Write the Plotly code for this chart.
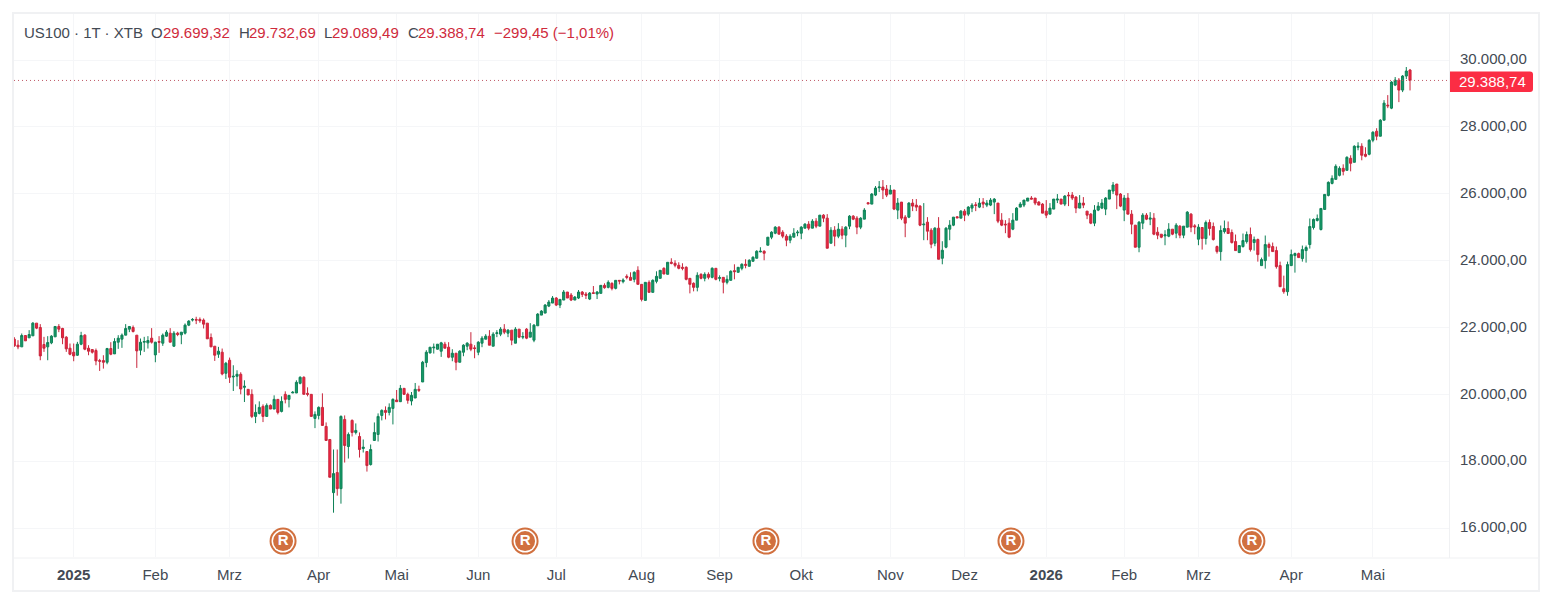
import plotly.graph_objects as go

# Daily OHLC of the US100 CFD, oldest bar first
opens = [
21650,21470,21420,21760,21690,21750,22130,22000,21490,21420,21540,21720,22030,21970,21710,21380,21260,21170,21500,21770,
21380,21340,21310,21010,21010,20960,21370,21210,21560,21650,21770,21950,22000,21770,21320,21560,21540,21680,21180,21580,
21530,21740,21830,21440,21830,21780,21830,22070,22220,22240,22240,22220,22130,
21700,21440,21200,21260,20630,21020,20520,20540,20600,20210,20150,20000,19340,19430,19640,19340,19670,19560,19850,19490,
20000,19850,20040,20040,20330,20510,20030,20000,19280,19370,19610,19040,18650,17060,17660,17180,19250,18440,19220,18860,
18740,18380,18290,17900,18620,18800,19370,19520,19460,19580,19830,19780,
20180,20000,19800,19890,20150,20370,20950,21240,
21390,21350,21290,21500,21410,21110,21230,20960,21260,21440,21500,21390,21260,21530,21650,21740,21440,21820,21800,21950,
21830,21920,21530,21950,21710,21950,21710,21620,22050,22370,22430,22640,22730,22880,22670,22820,23060,22970,22820,22880,
23060,23000,22850,23040,23000,
23020,23260,23200,23320,23170,23410,23370,23530,23500,23440,23710,23290,22810,23350,23050,23380,23470,23770,23590,23950,
23920,23860,23800,23800,23470,23320,23200,23590,23470,23590,23500,23770,23470,23500,23350,23410,23700,23650,23770,23890,
23830,23980,24070,24260,24280,24460,24700,24820,25000,24850,24730,24610,24700,24830,
24820,24970,25090,24970,25180,25030,25360,25270,24520,24910,24730,24940,24760,25030,25330,25270,25000,25240,25730,25690,
25960,26180,26200,26140,25990,26110,25510,25750,25300,25300,25720,25660,25630,25070,25150,24910,24520,24970,24070,24400,
24940,25060,25310,25270,25480,25390,25570,25670,25600,25750,25660,25660,25750,25720,
25210,25090,25120,24940,25210,25600,25660,25780,25870,25870,25750,25690,25480,25390,25540,25810,25840,25690,25960,25960,
25900,25570,25720,25480,25390,25120,25510,25570,25540,25840,26080,26290,25990,25510,25870,25390,25060,24400,25120,25360,
25240,25270,24850,24790,24740,24730,24940,24820,25030,24760,25000,25390,25040,24640,
24990,24660,25140,25020,24420,24270,24870,24960,24840,24570,24240,24420,24570,24780,24540,24630,23850,24000,24480,24420,
24300,23850,23160,23070,23850,24150,24210,24060,24300,24480,24990,25200,24930,25530,25950,26310,26430,26550,26760,26700,
27060,26940,27390,27420,27180,27180,27600,27870,27720,28200,28650,28560,29250,29400,29100,29520,29699.32,
]
highs = [
21710,21620,21820,21770,21920,22160,22130,22100,21720,21740,21770,22040,22100,21990,21740,21520,21520,21570,21870,21800,
21470,21340,21370,21060,21170,21390,21560,21680,21770,21820,22100,22030,22060,21770,21670,21720,21740,21980,21570,21740,
21820,21920,21980,21890,21870,21860,22120,22220,22280,22320,22300,22270,22130,
21820,21440,21420,21370,20970,21100,20870,20720,20660,20420,20150,20150,19700,19790,19700,19730,19700,19970,19850,19940,
20090,19970,20100,20420,20540,20540,20210,20000,19490,19640,20030,19160,18650,18350,18350,19370,19370,18860,19250,19130,
18860,18650,18290,18500,19160,19430,19550,19640,19730,19880,20130,20280,
20180,20050,20070,20340,20260,21000,21320,21410,
21520,21500,21570,21570,21560,21350,21230,21320,21500,21560,21860,21470,21590,21740,21800,21920,21860,21920,22010,22100,
21950,21920,22010,21950,21860,21980,22130,22100,22430,22520,22700,22820,22940,22910,22840,23120,23060,23030,22940,23120,
23090,23060,23060,23240,23090,
23260,23320,23410,23350,23410,23410,23470,23590,23650,23680,23830,23290,23350,23410,23440,23680,23710,23800,23950,24070,
24010,23950,23920,23830,23470,23350,23650,23620,23650,23650,23800,23770,23560,23500,23560,23710,23890,23800,23920,24040,
24040,24130,24310,24400,24310,24700,24880,25030,25030,24910,24790,24790,24970,24910,
25030,25120,25180,25240,25270,25360,25390,25390,25000,25030,25120,25030,25030,25360,25360,25330,25300,25570,25750,26020,
26230,26380,26410,26260,26260,26110,25870,25750,25360,25750,25840,25840,25660,25720,25300,24970,25000,25300,24580,25000,
25210,25300,25330,25510,25540,25630,25720,25750,25870,25870,25810,25870,25870,25720,
25420,25210,25270,25420,25600,25750,25810,25870,25930,25870,25780,25720,25810,25720,25840,25990,25840,25960,26050,26050,
25930,25960,25900,25480,25420,25660,25750,25840,25900,26110,26350,26290,26020,25960,26020,25510,25060,25180,25420,25420,
25450,25420,25000,24790,24910,25120,24940,25120,25060,25030,25480,25420,25090,25090,
24990,25200,25230,25140,24450,25050,25200,25170,24930,24780,24450,24810,24870,24990,24720,24660,24090,24750,24540,24540,
24420,23970,23550,23970,24330,24240,24240,24450,24450,25260,25260,25380,25560,25980,26370,26550,26880,26820,26880,27120,
27150,27450,27540,27510,27390,27630,27870,27960,28230,28800,28950,29370,29490,29460,29550,29790,29732.69,
]
lows = [
21420,21350,21420,21600,21690,21750,21950,21020,21270,21020,21500,21720,21860,21500,21270,21170,20990,21150,21470,21320,
21170,21220,20870,20700,20770,20900,21170,21210,21360,21390,21770,21860,21850,20790,21170,21270,21370,21520,20960,21240,
21450,21720,21560,21420,21740,21500,21790,22040,22180,22100,22140,21970,21660,
21420,21000,21090,20570,20460,20340,20100,20240,20000,19770,19980,19290,19140,19400,19170,19340,19560,19560,19400,19460,
19730,19610,20040,20040,20300,20000,19940,19340,18990,19250,19070,18620,17520,16460,16970,16730,17960,18080,18740,18800,
18110,18260,17690,17870,18620,18590,19220,19250,19370,19100,19780,19770,
19980,19720,19670,19890,20070,20370,20810,21220,
21220,21340,21120,21380,21080,20990,20720,20960,21140,21320,21290,21080,21170,21410,21650,21470,21440,21710,21740,21800,
21710,21470,21530,21680,21650,21650,21710,21560,22050,22370,22430,22610,22730,22640,22580,22820,22880,22790,22820,22850,
22910,22850,22820,23000,22850,
23020,23160,23170,23110,23140,23290,23320,23440,23410,23350,23290,22780,22810,23050,23050,23320,23470,23590,23590,23890,
23800,23740,23710,23410,23020,23080,23080,23440,23380,23440,23470,23410,23380,23020,23290,23410,23440,23650,23710,23770,
23830,23980,24070,24250,24010,24460,24640,24790,24790,24670,24430,24520,24700,24730,
24640,24970,24910,24970,24970,25030,25150,24370,24520,24430,24670,24640,24400,24940,25210,24790,24940,25240,25690,25690,
25930,26050,25840,25900,25990,25510,25240,25210,24700,25270,25480,25480,25030,24610,24610,24370,24430,24040,23890,24370,
24610,25030,25270,25270,25180,25330,25450,25480,25570,25570,25600,25630,25390,25120,
25030,24820,24670,24910,25210,25600,25600,25780,25840,25660,25660,25420,25270,25390,25540,25720,25690,25630,25630,25810,
25420,25570,25570,25240,25090,25030,25480,25540,25360,25840,25990,25540,25600,25180,25390,24790,24400,24250,24940,25210,
25060,24760,24640,24670,24460,24700,24760,24670,24670,24670,25000,24850,24790,24460,
24330,24480,24750,24600,24210,24000,24810,24810,24510,24300,24240,24390,24510,24270,24300,23970,23850,23760,24120,24270,
23760,23220,23010,22950,23850,23640,24090,23970,23940,24360,24930,25170,24900,25530,25920,26280,26430,26520,26550,26700,
26670,26940,27300,27000,27090,27150,27540,27600,27720,28200,28560,28530,29220,28740,29040,29430,29089.49,
]
closes = [
21450,21420,21760,21600,21790,22130,21980,21150,21380,21550,21740,22030,21950,21690,21360,21200,21150,21500,21760,21350,
21290,21260,21000,20990,20960,21370,21200,21580,21680,21770,21970,22030,21880,21300,21560,21580,21610,21560,21560,21560,
21770,21860,21560,21830,21790,21860,22070,22190,22240,22220,22200,22100,21660,
21420,21170,21290,20610,20930,20510,20540,20600,20160,20240,19980,19340,19460,19610,19340,19670,19560,19850,19460,19790,
19850,19970,20060,20360,20510,20000,20000,19340,19400,19610,19070,18620,17520,17630,17180,19340,18470,18800,18860,18920,
18350,18420,17870,18350,18860,19340,19520,19460,19610,19850,19780,20180,
20000,19820,19970,20150,20120,20960,21260,21410,
21410,21500,21540,21380,21110,21230,20960,21290,21470,21530,21350,21370,21560,21680,21740,21470,21800,21840,21950,21860,
21920,21620,21950,21710,21730,21680,21860,22070,22400,22490,22670,22760,22880,22670,22840,23060,22880,22820,22910,23060,
22990,22960,23030,23020,23060,
23260,23190,23350,23170,23410,23390,23420,23500,23410,23650,23290,22840,23350,23050,23410,23530,23710,23600,23950,23920,
23860,23770,23770,23440,23290,23200,23560,23470,23590,23500,23770,23440,23490,23350,23440,23680,23670,23800,23890,23860,
24010,24100,24280,24280,24220,24700,24850,25000,24790,24730,24610,24730,24820,24850,
25000,25090,24970,25180,25030,25360,25270,24370,24910,24730,24940,24760,25000,25330,25240,25000,25270,25510,25700,25990,
26170,26200,26110,25960,26110,25540,25720,25270,25120,25720,25630,25600,25060,25090,24880,24490,24970,24040,24310,24970,
25060,25300,25280,25480,25360,25600,25660,25650,25720,25690,25720,25810,25840,25180,
25060,25070,24700,25210,25570,25690,25810,25870,25840,25720,25660,25420,25360,25570,25840,25840,25690,25930,25940,25870,
25570,25720,25660,25360,25120,25510,25630,25720,25870,26110,26260,25960,25630,25870,25390,25090,24400,25150,25360,25240,
25270,24790,24760,24700,24770,24940,24790,25060,24760,25030,25450,25000,25010,25000,
24660,25140,24960,24630,24270,24900,24960,24810,24540,24300,24450,24600,24780,24330,24630,24180,24030,24480,24390,24270,
23820,23220,23070,23880,24180,24210,24090,24330,24390,25020,25230,25260,25560,25980,26340,26460,26820,26760,26670,27090,
26910,27420,27420,27150,27120,27600,27840,27720,28200,28710,28630,29340,29400,29100,29520,29670,29388.74,
]

# Bar numbers where each month begins, with the label shown there
month_bars = [16, 38, 58, 82, 103, 125, 146, 169, 190, 212, 236, 256, 278, 299, 319, 344, 366]
month_labels = ["<b>2025</b>", "Feb", "Mrz", "Apr", "Mai", "Jun", "Jul", "Aug", "Sep", "Okt", "Nov",
                "Dez", "<b>2026</b>", "Feb", "Mrz", "Apr", "Mai"]
price_ticks = [16000, 18000, 20000, 22000, 24000, 26000, 28000, 30000]

# Dividend-style event badges along the bottom of the pane
event_bars = [72.4, 137.6, 202.5, 268.5, 333.4]
event_level = 15610

# Header strip: text, left edge in pixels, and whether it is drawn in the quote colour
header_items = [
    ("US100 · 1T · XTB", 23, False), ("O", 150, False), ("29.699,32", 162, True),
    ("H", 238, False), ("29.732,69", 248, True), ("L", 323, False), ("29.089,49", 331, True),
    ("C", 407, False), ("29.388,74", 417, True), ("−299,45 (−1,01%)", 493, True),
]

last_close = closes[-1]

GREEN_FILL, GREEN_EDGE = "#169c68", "#0e8057"
RED_FILL, RED_EDGE = "#f0243f", "#c8263c"
TAG_RED = "#fb2d44"
GRID = "#f5f6f8"
FRAME = "#f0f1f3"
INK = "#434a54"
RED_TEXT = "#cf2a3c"
FONT = "'Liberation Sans', Arial, sans-serif"

W, H = 1552, 605
L, R, T, B = 14, 103, 14, 48


def page_x(px):
    return (px - L) / (W - L - R)


def page_y(py):
    return 1 - (py - T) / (H - T - B)


def tag_path(x0, x1, y0, y1, r):
    """Rectangle with rounded right-hand corners, in paper coordinates."""
    ax, bx, cx = page_x(x0), page_x(x1 - r), page_x(x1)
    t0, t1, b1, b0 = page_y(y0), page_y(y0 + r), page_y(y1 - r), page_y(y1)
    return (f"M{ax},{t0} L{bx},{t0} Q{cx},{t0} {cx},{t1} L{cx},{b1} "
            f"Q{cx},{b0} {bx},{b0} L{ax},{b0} Z")


fig = go.Figure()
fig.add_trace(go.Candlestick(
    x=list(range(len(opens))), open=opens, high=highs, low=lows, close=closes,
    increasing=dict(fillcolor=GREEN_FILL, line=dict(color=GREEN_EDGE, width=1)),
    decreasing=dict(fillcolor=RED_FILL, line=dict(color=RED_EDGE, width=1)),
    whiskerwidth=0, hoverinfo="skip", showlegend=False,
))

# Badge: an orange disc, a white ring and an inner disc carrying the letter
badge_y = [event_level] * len(event_bars)
for size, colour in ((27, "#d1703f"), (23, "#ffffff")):
    fig.add_trace(go.Scatter(x=event_bars, y=badge_y, mode="markers", hoverinfo="skip", showlegend=False,
                             marker=dict(size=size, color=colour, line=dict(width=0))))
fig.add_trace(go.Scatter(x=event_bars, y=badge_y, mode="markers+text", hoverinfo="skip", showlegend=False,
                         marker=dict(size=20, color="#d1703f", line=dict(width=0)),
                         text=["<b>R</b>"] * len(event_bars), textposition="middle center",
                         textfont=dict(family=FONT, size=15, color="#ffffff")))

header_notes = [
    dict(xref="paper", yref="paper", x=page_x(px), y=page_y(32), xanchor="left", yanchor="middle",
         showarrow=False, text=label, xshift=-1,
         font=dict(family=FONT, size=15, color=RED_TEXT if quoted else INK))
    for label, px, quoted in header_items
]

fig.update_layout(
    width=W, height=H, margin=dict(l=L, r=R, t=T, b=B),
    paper_bgcolor="#ffffff", plot_bgcolor="#ffffff", boxgap=0.2,
    separators=",.", font=dict(family=FONT, size=15, color=INK),
    xaxis=dict(range=[-0.08, 386.5], rangeslider=dict(visible=False), tickmode="array",
               tickvals=month_bars, ticktext=month_labels, ticks="outside", ticklen=4, tickcolor="rgba(0,0,0,0)",
               showgrid=True, gridcolor=GRID, gridwidth=1, zeroline=False, showline=False,
               tickfont=dict(family=FONT, size=15, color=INK), tickangle=0),
    yaxis=dict(side="right", range=[15135, 31376], tickmode="array", tickvals=price_ticks, tickformat=",.2f",
               ticks="outside", ticklen=7, tickcolor="rgba(0,0,0,0)", ticklabelshift=-1,
               showgrid=True, gridcolor=GRID, gridwidth=1, zeroline=False, showline=False,
               tickfont=dict(family=FONT, size=15, color=INK)),
    shapes=[
        dict(type="line", xref="x", yref="y", x0=-0.08, x1=386.5, y0=last_close, y1=last_close,
             line=dict(color="#c05a68", width=1, dash="1px,3px")),
        dict(type="rect", xref="paper", yref="paper", x0=page_x(13), x1=page_x(1539), y0=page_y(591), y1=page_y(13),
             line=dict(color=FRAME, width=2), fillcolor="rgba(0,0,0,0)"),
        dict(type="line", xref="paper", yref="paper", x0=page_x(13), x1=page_x(1539), y0=page_y(558), y1=page_y(558),
             line=dict(color=FRAME, width=1)),
        dict(type="line", xref="paper", yref="paper", x0=page_x(1449.5), x1=page_x(1449.5), y0=page_y(558), y1=page_y(13),
             line=dict(color=FRAME, width=1)),
        dict(type="path", xref="paper", yref="paper", path=tag_path(1450, 1533, 71.5, 92, 3),
             line=dict(color=TAG_RED, width=0), fillcolor=TAG_RED),
    ],
    annotations=header_notes + [
        dict(xref="paper", yref="paper", x=page_x(1492), y=page_y(81.5), xanchor="center", yanchor="middle",
             showarrow=False, text=f"{last_close:,.2f}".replace(",", "#").replace(".", ",").replace("#", "."),
             font=dict(family=FONT, size=15, color="#ffffff")),
    ],
)
fig.write_html("out.html")
